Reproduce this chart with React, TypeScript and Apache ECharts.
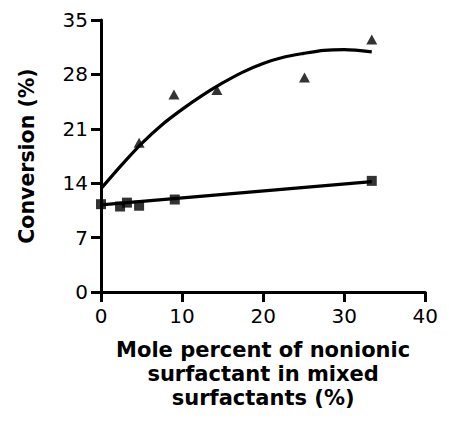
import React, { useEffect, useRef } from "react";
import * as echarts from "echarts";

const triangleX = [4.7, 9.0, 14.3, 25.1, 33.4];
const triangleY = [19.2, 25.4, 26.0, 27.6, 32.5];
const squareX = [0, 2.35, 3.2, 4.7, 9.1, 33.4];
const squareY = [11.3, 11.0, 11.5, 11.1, 11.9, 14.3];
const curveX = [0, 2.5, 5, 7.5, 10, 12.5, 15, 17.5, 20, 22.5, 25, 27.5, 30, 33.4];
const curveY = [13.3, 16.3, 19.1, 21.5, 23.5, 25.3, 26.9, 28.3, 29.4, 30.2, 30.7, 31.1, 31.2, 30.9];
const lineX = [0, 33.4];
const lineY = [11.2, 14.2];
const xTicks = [0, 10, 20, 30, 40];
const yTicks = [0, 7, 14, 21, 28, 35];

const font = "'DejaVu Sans', 'Liberation Sans', Arial, sans-serif";

export default function App() {
  const ref = useRef<HTMLDivElement>(null);
  useEffect(() => {
    if (!ref.current) return;
    const chart = echarts.init(ref.current, undefined, { renderer: "svg" });
    const zip = (xs: number[], ys: number[]) => xs.map((x, i) => [x, ys[i]]);
    chart.setOption({
      animation: false,
      backgroundColor: "#ffffff",
      grid: { left: 87, right: 5, top: 12, bottom: 124, containLabel: false },
      xAxis: {
        type: "value",
        min: xTicks[0],
        max: xTicks[xTicks.length - 1],
        interval: 10,
        name: "Mole percent of nonionic\nsurfactant in mixed\nsurfactants (%)",
        nameLocation: "middle",
        nameGap: 46,
        nameTextStyle: { fontFamily: font, fontWeight: "bold", fontSize: 21, color: "#000", lineHeight: 24 },
        axisLine: { show: true, onZero: false, lineStyle: { color: "#000", width: 3 } },
        axisTick: { show: true, length: 10, lineStyle: { color: "#000", width: 3 } },
        axisLabel: { fontFamily: font, fontSize: 20, color: "#000", margin: 14 },
        splitLine: { show: false },
      },
      yAxis: {
        type: "value",
        min: yTicks[0],
        max: yTicks[yTicks.length - 1],
        interval: 7,
        name: "Conversion (%)",
        nameLocation: "middle",
        nameRotate: 90,
        nameGap: 64,
        nameTextStyle: { fontFamily: font, fontWeight: "bold", fontSize: 20.5, color: "#000" },
        axisLine: { show: true, onZero: false, lineStyle: { color: "#000", width: 3 } },
        axisTick: { show: true, length: 10, lineStyle: { color: "#000", width: 3 } },
        axisLabel: { fontFamily: font, fontSize: 20, color: "#000", margin: 13 },
        splitLine: { show: false },
      },
      series: [
        {
          type: "line",
          data: zip(curveX, curveY),
          smooth: 0.3,
          showSymbol: false,
          lineStyle: { color: "#000", width: 3.2 },
          z: 2,
        },
        {
          type: "line",
          data: zip(lineX, lineY),
          showSymbol: false,
          lineStyle: { color: "#000", width: 3.2 },
          z: 2,
        },
        {
          type: "scatter",
          data: zip(triangleX, triangleY),
          symbol: "triangle",
          symbolSize: [11, 10],
          itemStyle: { color: "#000" },
          z: 3,
        },
        {
          type: "scatter",
          data: zip(squareX, squareY),
          symbol: "rect",
          symbolSize: 10,
          itemStyle: { color: "#000" },
          z: 3,
        },
      ],
    });
    return () => chart.dispose();
  }, []);
  return <div ref={ref} style={{ width: 433, height: 408 }} />;
}
